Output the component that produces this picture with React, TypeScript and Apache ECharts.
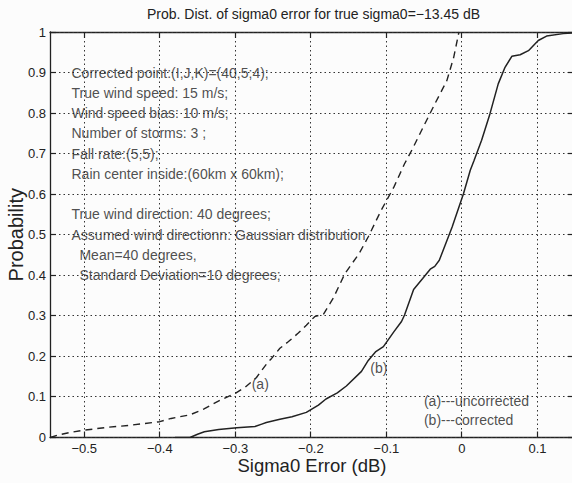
import React, { useEffect, useRef } from "react";
import * as echarts from "echarts";

const titleText = "Prob. Dist. of sigma0 error for true sigma0=−13.45 dB";
const xAxisName = "Sigma0 Error (dB)";
const yAxisName = "Probability";

const xMin = -0.5453;
const xMax = 0.1483;
const xTicks = [-0.5, -0.4, -0.3, -0.2, -0.1, 0, 0.1];
const yMin = 0;
const yMax = 1;
const yInterval = 0.1;
const yTicks = [0, 0.1, 0.2, 0.3, 0.4, 0.5, 0.6, 0.7, 0.8, 0.9, 1];

// (a) uncorrected — dashed
const uncorrected: [number, number][] = [
  [-0.545, 0.0], [-0.535, 0.006], [-0.52, 0.012], [-0.5, 0.018], [-0.47, 0.025],
  [-0.44, 0.03], [-0.4, 0.039], [-0.385, 0.047], [-0.36, 0.056], [-0.342, 0.07],
  [-0.32, 0.092], [-0.3, 0.109], [-0.287, 0.124], [-0.272, 0.148], [-0.258, 0.183],
  [-0.252, 0.195], [-0.241, 0.22], [-0.23, 0.236], [-0.217, 0.257], [-0.206, 0.277],
  [-0.195, 0.298], [-0.183, 0.305], [-0.17, 0.345], [-0.155, 0.404], [-0.136, 0.454],
  [-0.124, 0.495], [-0.107, 0.56], [-0.09, 0.618], [-0.076, 0.675], [-0.066, 0.71],
  [-0.052, 0.763], [-0.035, 0.826], [-0.02, 0.88], [-0.011, 0.937], [-0.004, 1.0],
];

// (b) corrected — solid
const corrected: [number, number][] = [
  [-0.38, 0], [-0.36, 0.0], [-0.35, 0.008], [-0.341, 0.014], [-0.322, 0.02],
  [-0.298, 0.024], [-0.274, 0.027], [-0.265, 0.033], [-0.259, 0.037], [-0.241, 0.045],
  [-0.225, 0.051], [-0.206, 0.062], [-0.19, 0.08], [-0.18, 0.095], [-0.165, 0.11],
  [-0.153, 0.127], [-0.133, 0.163], [-0.124, 0.19], [-0.114, 0.212], [-0.104, 0.224],
  [-0.09, 0.261], [-0.08, 0.286], [-0.076, 0.302], [-0.064, 0.365], [-0.052, 0.392],
  [-0.042, 0.415], [-0.036, 0.422], [-0.03, 0.437], [-0.013, 0.519], [0.002, 0.601],
  [0.011, 0.659], [0.016, 0.683], [0.026, 0.733], [0.037, 0.798], [0.048, 0.872],
  [0.057, 0.913], [0.066, 0.94], [0.077, 0.944], [0.088, 0.954], [0.101, 0.979],
  [0.112, 0.99], [0.134, 0.996], [0.148, 0.998],
];

// text notes: [x, y, text] in data coordinates (left edge, vertical centre)
const infoNotes: [number, number, string][] = [
  [-0.5175, 0.9, "Corrected point:(I,J,K)=(40,5;4);"],
  [-0.5175, 0.85, "True wind speed: 15 m/s;"],
  [-0.5175, 0.8, "Wind speed bias: 10 m/s;"],
  [-0.5175, 0.75, "Number of storms: 3 ;"],
  [-0.5175, 0.7, "Fall rate:(5,5);"],
  [-0.5175, 0.65, "Rain center inside:(60km x 60km);"],
  [-0.5175, 0.55, "True wind direction: 40 degrees;"],
  [-0.5175, 0.5, "Assumed wind directionn: Gaussian distribution"],
  [-0.507, 0.45, "Mean=40 degrees,"],
  [-0.507, 0.4, "Standard Deviation=10 degrees;"],
];

const curveNotes: [number, number, string][] = [
  [-0.279, 0.133, "(a)"],
  [-0.122, 0.172, "(b)"],
  [-0.051, 0.091, "(a)---uncorrected"],
  [-0.051, 0.043, "(b)---corrected"],
];

const FONT = "'Liberation Sans', Arial, Helvetica, sans-serif";
const INK = "#222";
const TEXT = "#222";
const DOTS = "#333";

function fmtX(v: number): string {
  if (Math.abs(v) < 1e-9) return "0";
  return (v < 0 ? "−" : "") + Math.abs(v).toFixed(1);
}

const crisp = (v: number) => Math.round(v - 0.5) + 0.5;

export default function App() {
  const ref = useRef<HTMLDivElement>(null);
  useEffect(() => {
    if (!ref.current) return;
    const chart = echarts.init(ref.current, undefined, { renderer: "svg" });
    const mkAxisLine = () => ({ show: true, onZero: false, lineStyle: { color: INK, width: 1.3 } });
    const noteSeries = (notes: [number, number, string][]) => ({
      type: "scatter",
      silent: true,
      symbolSize: 1,
      itemStyle: { color: "rgba(0,0,0,0)" },
      z: 5,
      data: notes.map((n) => ({ value: [n[0], n[1]], name: n[2] })),
      label: {
        show: true,
        position: "right",
        distance: 0,
        formatter: "{b}",
        color: TEXT,
        fontSize: 14,
        fontFamily: FONT,
      },
    });
    chart.setOption({
      animation: false,
      backgroundColor: "#fcfcfc",
      textStyle: { fontFamily: FONT },
      title: {
        text: titleText,
        left: 313.5,
        top: 7,
        padding: 0,
        textAlign: "center",
        textStyle: { fontSize: 14, fontWeight: "normal", color: TEXT, fontFamily: FONT },
      },
      grid: {
        left: 50,
        top: 32,
        right: -2,
        bottom: 45.5,
        containLabel: false,
        outerBoundsMode: "none",
      },
      xAxis: [
        {
          type: "value",
          position: "bottom",
          min: xMin,
          max: xMax,
          splitNumber: 7,
          axisLine: mkAxisLine(),
          axisTick: { show: false },
          splitLine: { show: false },
          axisLabel: {
            customValues: xTicks,
            formatter: fmtX,
            color: TEXT,
            fontSize: 13,
            margin: 4,
          },
          name: xAxisName,
          nameLocation: "middle",
          nameGap: 18,
          nameMoveOverlap: false,
          nameTextStyle: { fontSize: 18.5, color: TEXT, fontFamily: FONT },
        },
        {
          type: "value",
          position: "top",
          min: xMin,
          max: xMax,
          axisLine: mkAxisLine(),
          axisTick: { show: false },
          splitLine: { show: false },
          axisLabel: { show: false },
        },
      ],
      yAxis: [
        {
          type: "value",
          position: "left",
          min: yMin,
          max: yMax,
          interval: yInterval,
          axisLine: mkAxisLine(),
          axisTick: { show: false },
          splitLine: { show: false },
          axisLabel: { color: TEXT, fontSize: 13, margin: 4 },
          name: yAxisName,
          nameLocation: "middle",
          nameRotate: 90,
          nameGap: 24,
          nameMoveOverlap: false,
          nameTextStyle: { fontSize: 20, color: TEXT, fontFamily: FONT },
        },
        {
          type: "value",
          position: "right",
          min: yMin,
          max: yMax,
          interval: yInterval,
          axisLine: mkAxisLine(),
          axisTick: { show: false },
          splitLine: { show: false },
          axisLabel: { show: false },
        },
      ],
      series: [
        {
          // vertical grid lines + inward ticks on bottom and top axes
          type: "custom",
          silent: true,
          z: 1,
          data: xTicks.map((v) => [v]),
          renderItem: (_params: any, api: any) => {
            const v = api.value(0);
            const top = api.coord([v, yMax]);
            const bot = api.coord([v, yMin]);
            const x = crisp(top[0]);
            return {
              type: "group",
              children: [
                {
                  type: "line",
                  shape: { x1: x, y1: top[1], x2: x, y2: bot[1] },
                  style: { stroke: DOTS, lineWidth: 1, lineDash: [1.5, 3] },
                },
                {
                  type: "line",
                  shape: { x1: x, y1: bot[1], x2: x, y2: bot[1] - 6 },
                  style: { stroke: INK, lineWidth: 1.2 },
                },
                {
                  type: "line",
                  shape: { x1: x, y1: top[1], x2: x, y2: top[1] + 6 },
                  style: { stroke: INK, lineWidth: 1.2 },
                },
              ],
            };
          },
        },
        {
          // horizontal grid lines + inward ticks on left and right axes
          type: "custom",
          silent: true,
          z: 1,
          data: yTicks.map((v) => [xMin, v]),
          renderItem: (_params: any, api: any) => {
            const v = api.value(1);
            const l = api.coord([xMin, v]);
            const r = api.coord([xMax, v]);
            const y = crisp(l[1]);
            return {
              type: "group",
              children: [
                {
                  type: "line",
                  shape: { x1: l[0], y1: y, x2: r[0], y2: y },
                  style: { stroke: DOTS, lineWidth: 1, lineDash: [1.5, 3] },
                },
                {
                  type: "line",
                  shape: { x1: l[0], y1: y, x2: l[0] + 6, y2: y },
                  style: { stroke: INK, lineWidth: 1.2 },
                },
                {
                  type: "line",
                  shape: { x1: r[0], y1: y, x2: r[0] - 6, y2: y },
                  style: { stroke: INK, lineWidth: 1.2 },
                },
              ],
            };
          },
        },
        {
          type: "line",
          name: "uncorrected",
          data: uncorrected,
          showSymbol: false,
          symbol: "none",
          z: 4,
          lineStyle: { color: INK, width: 1.4, type: [7, 5] },
        },
        {
          type: "line",
          name: "corrected",
          data: corrected,
          showSymbol: false,
          symbol: "none",
          z: 4,
          lineStyle: { color: INK, width: 1.5, type: "solid" },
        },
        noteSeries(infoNotes),
        noteSeries(curveNotes),
      ],
    });
    return () => chart.dispose();
  }, []);
  return (
    <div
      ref={ref}
      style={{ position: "fixed", left: 0, top: 0, width: 572, height: 483 }}
    />
  );
}
